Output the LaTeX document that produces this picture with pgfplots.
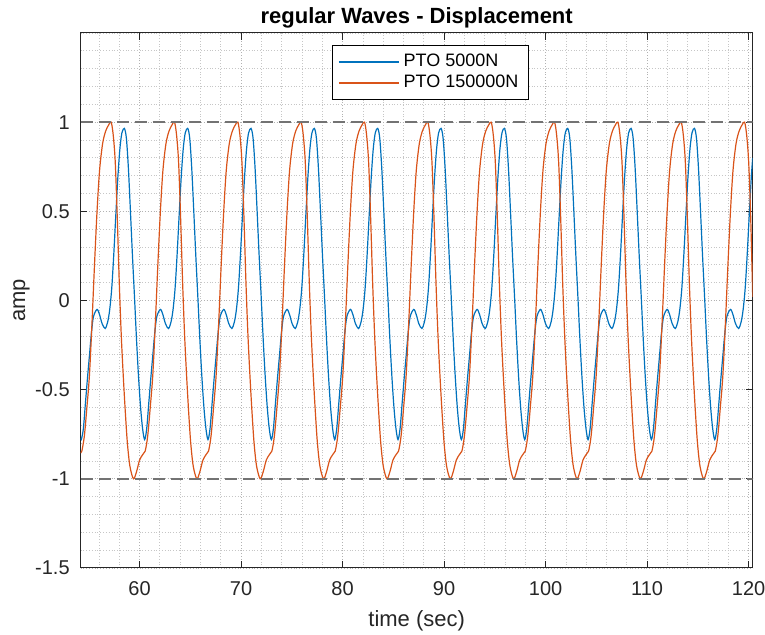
\documentclass[border=0pt]{standalone}
\usepackage{fontspec}
\setmainfont{Liberation Sans}
\usepackage{pgfplots}
\pgfplotsset{compat=1.18}
\definecolor{mblue}{rgb}{0,0.447,0.741}
\definecolor{morange}{rgb}{0.850,0.325,0.098}
\definecolor{axgray}{rgb}{0.15,0.15,0.15}
\definecolor{dashgray}{rgb}{0.45,0.45,0.45}
\begin{document}
\begin{tikzpicture}
\begin{axis}[
  scale only axis, width=336pt, height=267.5pt,
  xmin=54.2, xmax=120.4, ymin=-1.5, ymax=1.5,
  xtick={60,70,80,90,100,110,120}, xticklabels={60,70,80,90,100,110,120},
  ytick={-1.5,-1,-0.5,0,0.5,1}, yticklabels={-1.5,-1,-0.5,0,0.5,1},
  minor xtick={54,56,...,120},
  minor ytick={-1.4,-1.3,...,1.45},
  grid=both,
  major grid style={densely dotted, gray!60, line width=0.4pt},
  minor grid style={densely dotted, gray!45, line width=0.4pt},
  tick align=inside,
  major tick length=3.3pt, minor tick length=0pt,
  tick style={axgray, line width=0.5pt},
  axis line style={axgray, line width=0.5pt},
  ticklabel style={font=\fontsize{10}{12}\selectfont, text=axgray},
  xticklabel style={anchor=base, yshift=-14pt},
  yticklabel style={anchor=east, xshift=-2pt},
  every axis title shift=0pt,
  title={regular Waves - Displacement},
  title style={font=\bfseries\fontsize{11}{13}\selectfont, at={(axis description cs:0.5,1)}, anchor=base, yshift=4.5pt},
  xlabel={time (sec)},
  xlabel style={font=\fontsize{11}{13}\selectfont, text=axgray, at={(axis description cs:0.5,0)}, anchor=base, yshift=-29.5pt},
  ylabel={amp},
  ylabel style={font=\fontsize{11}{13}\selectfont, text=axgray, at={(axis description cs:-0.088,0.5)}, anchor=center},
  legend style={at={(axis description cs:0.374,0.978)}, anchor=north west, fill=white,
    font=\fontsize{9}{10.8}\selectfont, inner xsep=2.8pt, inner ysep=2.4pt, row sep=-1.05pt},
  legend cell align=left,
  legend image code/.code={\draw[line width=0.85pt] (0pt,0pt) -- (30pt,0pt);},
]
\addplot[color=mblue, line width=0.6pt, smooth] coordinates {
(54.20,-0.77) (54.26,-0.78) (54.46,-0.72) (54.66,-0.58) (54.86,-0.44) (55.06,-0.31) (55.26,-0.18) (55.46,-0.09) (55.81,-0.05) (56.06,-0.08) (56.31,-0.13) (56.61,-0.157) (56.86,-0.12) (57.06,-0.05) (57.26,0.07) (57.46,0.26) (57.66,0.48) (57.86,0.69) (58.06,0.85) (58.26,0.94)
(58.50,0.965) (58.70,0.91) (58.90,0.74) (59.10,0.50) (59.30,0.25) (59.50,0.02) (59.70,-0.22) (59.90,-0.43) (60.10,-0.60) (60.30,-0.72) (60.50,-0.78) (60.70,-0.72) (60.90,-0.58) (61.10,-0.44) (61.30,-0.31) (61.50,-0.18) (61.70,-0.09) (62.05,-0.05) (62.30,-0.08) (62.55,-0.13) (62.85,-0.157) (63.10,-0.12) (63.30,-0.05) (63.50,0.07) (63.70,0.26) (63.90,0.48) (64.10,0.69) (64.30,0.85) (64.50,0.94)
(64.74,0.965) (64.94,0.91) (65.14,0.74) (65.34,0.50) (65.54,0.25) (65.74,0.02) (65.94,-0.22) (66.14,-0.43) (66.34,-0.60) (66.54,-0.72) (66.74,-0.78) (66.94,-0.72) (67.14,-0.58) (67.34,-0.44) (67.54,-0.31) (67.74,-0.18) (67.94,-0.09) (68.29,-0.05) (68.54,-0.08) (68.79,-0.13) (69.09,-0.157) (69.34,-0.12) (69.54,-0.05) (69.74,0.07) (69.94,0.26) (70.14,0.48) (70.34,0.69) (70.54,0.85) (70.74,0.94)
(70.98,0.965) (71.18,0.91) (71.38,0.74) (71.58,0.50) (71.78,0.25) (71.98,0.02) (72.18,-0.22) (72.38,-0.43) (72.58,-0.60) (72.78,-0.72) (72.98,-0.78) (73.18,-0.72) (73.38,-0.58) (73.58,-0.44) (73.78,-0.31) (73.98,-0.18) (74.18,-0.09) (74.53,-0.05) (74.78,-0.08) (75.03,-0.13) (75.33,-0.157) (75.58,-0.12) (75.78,-0.05) (75.98,0.07) (76.18,0.26) (76.38,0.48) (76.58,0.69) (76.78,0.85) (76.98,0.94)
(77.22,0.965) (77.42,0.91) (77.62,0.74) (77.82,0.50) (78.02,0.25) (78.22,0.02) (78.42,-0.22) (78.62,-0.43) (78.82,-0.60) (79.02,-0.72) (79.22,-0.78) (79.42,-0.72) (79.62,-0.58) (79.82,-0.44) (80.02,-0.31) (80.22,-0.18) (80.42,-0.09) (80.77,-0.05) (81.02,-0.08) (81.27,-0.13) (81.57,-0.157) (81.82,-0.12) (82.02,-0.05) (82.22,0.07) (82.42,0.26) (82.62,0.48) (82.82,0.69) (83.02,0.85) (83.22,0.94)
(83.46,0.965) (83.66,0.91) (83.86,0.74) (84.06,0.50) (84.26,0.25) (84.46,0.02) (84.66,-0.22) (84.86,-0.43) (85.06,-0.60) (85.26,-0.72) (85.46,-0.78) (85.66,-0.72) (85.86,-0.58) (86.06,-0.44) (86.26,-0.31) (86.46,-0.18) (86.66,-0.09) (87.01,-0.05) (87.26,-0.08) (87.51,-0.13) (87.81,-0.157) (88.06,-0.12) (88.26,-0.05) (88.46,0.07) (88.66,0.26) (88.86,0.48) (89.06,0.69) (89.26,0.85) (89.46,0.94)
(89.70,0.965) (89.90,0.91) (90.10,0.74) (90.30,0.50) (90.50,0.25) (90.70,0.02) (90.90,-0.22) (91.10,-0.43) (91.30,-0.60) (91.50,-0.72) (91.70,-0.78) (91.90,-0.72) (92.10,-0.58) (92.30,-0.44) (92.50,-0.31) (92.70,-0.18) (92.90,-0.09) (93.25,-0.05) (93.50,-0.08) (93.75,-0.13) (94.05,-0.157) (94.30,-0.12) (94.50,-0.05) (94.70,0.07) (94.90,0.26) (95.10,0.48) (95.30,0.69) (95.50,0.85) (95.70,0.94)
(95.94,0.965) (96.14,0.91) (96.34,0.74) (96.54,0.50) (96.74,0.25) (96.94,0.02) (97.14,-0.22) (97.34,-0.43) (97.54,-0.60) (97.74,-0.72) (97.94,-0.78) (98.14,-0.72) (98.34,-0.58) (98.54,-0.44) (98.74,-0.31) (98.94,-0.18) (99.14,-0.09) (99.49,-0.05) (99.74,-0.08) (99.99,-0.13) (100.29,-0.157) (100.54,-0.12) (100.74,-0.05) (100.94,0.07) (101.14,0.26) (101.34,0.48) (101.54,0.69) (101.74,0.85) (101.94,0.94)
(102.18,0.965) (102.38,0.91) (102.58,0.74) (102.78,0.50) (102.98,0.25) (103.18,0.02) (103.38,-0.22) (103.58,-0.43) (103.78,-0.60) (103.98,-0.72) (104.18,-0.78) (104.38,-0.72) (104.58,-0.58) (104.78,-0.44) (104.98,-0.31) (105.18,-0.18) (105.38,-0.09) (105.73,-0.05) (105.98,-0.08) (106.23,-0.13) (106.53,-0.157) (106.78,-0.12) (106.98,-0.05) (107.18,0.07) (107.38,0.26) (107.58,0.48) (107.78,0.69) (107.98,0.85) (108.18,0.94)
(108.42,0.965) (108.62,0.91) (108.82,0.74) (109.02,0.50) (109.22,0.25) (109.42,0.02) (109.62,-0.22) (109.82,-0.43) (110.02,-0.60) (110.22,-0.72) (110.42,-0.78) (110.62,-0.72) (110.82,-0.58) (111.02,-0.44) (111.22,-0.31) (111.42,-0.18) (111.62,-0.09) (111.97,-0.05) (112.22,-0.08) (112.47,-0.13) (112.77,-0.157) (113.02,-0.12) (113.22,-0.05) (113.42,0.07) (113.62,0.26) (113.82,0.48) (114.02,0.69) (114.22,0.85) (114.42,0.94)
(114.66,0.965) (114.86,0.91) (115.06,0.74) (115.26,0.50) (115.46,0.25) (115.66,0.02) (115.86,-0.22) (116.06,-0.43) (116.26,-0.60) (116.46,-0.72) (116.66,-0.78) (116.86,-0.72) (117.06,-0.58) (117.26,-0.44) (117.46,-0.31) (117.66,-0.18) (117.86,-0.09) (118.21,-0.05) (118.46,-0.08) (118.71,-0.13) (119.01,-0.157) (119.26,-0.12) (119.46,-0.05) (119.66,0.07) (119.86,0.26) (120.06,0.48) (120.26,0.69) (120.40,0.80)
};
\addlegendentry{PTO 5000N}
\addplot[color=morange, line width=0.6pt, smooth] coordinates {
(54.20,-0.85) (54.31,-0.845) (54.56,-0.76) (54.81,-0.60) (55.06,-0.42) (55.31,-0.13) (55.56,0.20) (55.81,0.50) (56.06,0.73) (56.36,0.88) (56.66,0.95) (56.96,0.985)
(57.20,1.00) (57.40,0.93) (57.60,0.78) (57.80,0.47) (58.00,0.10) (58.20,-0.20) (58.40,-0.43) (58.60,-0.63) (58.80,-0.80) (59.05,-0.93) (59.40,-1.00) (59.70,-0.96) (60.00,-0.895) (60.30,-0.865) (60.55,-0.845) (60.80,-0.76) (61.05,-0.60) (61.30,-0.42) (61.55,-0.13) (61.80,0.20) (62.05,0.50) (62.30,0.73) (62.60,0.88) (62.90,0.95) (63.20,0.985)
(63.44,1.00) (63.64,0.93) (63.84,0.78) (64.04,0.47) (64.24,0.10) (64.44,-0.20) (64.64,-0.43) (64.84,-0.63) (65.04,-0.80) (65.29,-0.93) (65.64,-1.00) (65.94,-0.96) (66.24,-0.895) (66.54,-0.865) (66.79,-0.845) (67.04,-0.76) (67.29,-0.60) (67.54,-0.42) (67.79,-0.13) (68.04,0.20) (68.29,0.50) (68.54,0.73) (68.84,0.88) (69.14,0.95) (69.44,0.985)
(69.68,1.00) (69.88,0.93) (70.08,0.78) (70.28,0.47) (70.48,0.10) (70.68,-0.20) (70.88,-0.43) (71.08,-0.63) (71.28,-0.80) (71.53,-0.93) (71.88,-1.00) (72.18,-0.96) (72.48,-0.895) (72.78,-0.865) (73.03,-0.845) (73.28,-0.76) (73.53,-0.60) (73.78,-0.42) (74.03,-0.13) (74.28,0.20) (74.53,0.50) (74.78,0.73) (75.08,0.88) (75.38,0.95) (75.68,0.985)
(75.92,1.00) (76.12,0.93) (76.32,0.78) (76.52,0.47) (76.72,0.10) (76.92,-0.20) (77.12,-0.43) (77.32,-0.63) (77.52,-0.80) (77.77,-0.93) (78.12,-1.00) (78.42,-0.96) (78.72,-0.895) (79.02,-0.865) (79.27,-0.845) (79.52,-0.76) (79.77,-0.60) (80.02,-0.42) (80.27,-0.13) (80.52,0.20) (80.77,0.50) (81.02,0.73) (81.32,0.88) (81.62,0.95) (81.92,0.985)
(82.16,1.00) (82.36,0.93) (82.56,0.78) (82.76,0.47) (82.96,0.10) (83.16,-0.20) (83.36,-0.43) (83.56,-0.63) (83.76,-0.80) (84.01,-0.93) (84.36,-1.00) (84.66,-0.96) (84.96,-0.895) (85.26,-0.865) (85.51,-0.845) (85.76,-0.76) (86.01,-0.60) (86.26,-0.42) (86.51,-0.13) (86.76,0.20) (87.01,0.50) (87.26,0.73) (87.56,0.88) (87.86,0.95) (88.16,0.985)
(88.40,1.00) (88.60,0.93) (88.80,0.78) (89.00,0.47) (89.20,0.10) (89.40,-0.20) (89.60,-0.43) (89.80,-0.63) (90.00,-0.80) (90.25,-0.93) (90.60,-1.00) (90.90,-0.96) (91.20,-0.895) (91.50,-0.865) (91.75,-0.845) (92.00,-0.76) (92.25,-0.60) (92.50,-0.42) (92.75,-0.13) (93.00,0.20) (93.25,0.50) (93.50,0.73) (93.80,0.88) (94.10,0.95) (94.40,0.985)
(94.64,1.00) (94.84,0.93) (95.04,0.78) (95.24,0.47) (95.44,0.10) (95.64,-0.20) (95.84,-0.43) (96.04,-0.63) (96.24,-0.80) (96.49,-0.93) (96.84,-1.00) (97.14,-0.96) (97.44,-0.895) (97.74,-0.865) (97.99,-0.845) (98.24,-0.76) (98.49,-0.60) (98.74,-0.42) (98.99,-0.13) (99.24,0.20) (99.49,0.50) (99.74,0.73) (100.04,0.88) (100.34,0.95) (100.64,0.985)
(100.88,1.00) (101.08,0.93) (101.28,0.78) (101.48,0.47) (101.68,0.10) (101.88,-0.20) (102.08,-0.43) (102.28,-0.63) (102.48,-0.80) (102.73,-0.93) (103.08,-1.00) (103.38,-0.96) (103.68,-0.895) (103.98,-0.865) (104.23,-0.845) (104.48,-0.76) (104.73,-0.60) (104.98,-0.42) (105.23,-0.13) (105.48,0.20) (105.73,0.50) (105.98,0.73) (106.28,0.88) (106.58,0.95) (106.88,0.985)
(107.12,1.00) (107.32,0.93) (107.52,0.78) (107.72,0.47) (107.92,0.10) (108.12,-0.20) (108.32,-0.43) (108.52,-0.63) (108.72,-0.80) (108.97,-0.93) (109.32,-1.00) (109.62,-0.96) (109.92,-0.895) (110.22,-0.865) (110.47,-0.845) (110.72,-0.76) (110.97,-0.60) (111.22,-0.42) (111.47,-0.13) (111.72,0.20) (111.97,0.50) (112.22,0.73) (112.52,0.88) (112.82,0.95) (113.12,0.985)
(113.36,1.00) (113.56,0.93) (113.76,0.78) (113.96,0.47) (114.16,0.10) (114.36,-0.20) (114.56,-0.43) (114.76,-0.63) (114.96,-0.80) (115.21,-0.93) (115.56,-1.00) (115.86,-0.96) (116.16,-0.895) (116.46,-0.865) (116.71,-0.845) (116.96,-0.76) (117.21,-0.60) (117.46,-0.42) (117.71,-0.13) (117.96,0.20) (118.21,0.50) (118.46,0.73) (118.76,0.88) (119.06,0.95) (119.36,0.985)
(119.60,1.00) (119.80,0.93) (120.00,0.78) (120.20,0.47) (120.40,0.02)
};
\addlegendentry{PTO 150000N}
\addplot[forget plot, dashgray, line width=0.75pt, dash pattern=on 6pt off 3pt] coordinates {(54.2,1) (120.4,1)};
\addplot[forget plot, dashgray, line width=0.75pt, dash pattern=on 6pt off 3pt] coordinates {(54.2,-1) (120.4,-1)};
\end{axis}
\pgfresetboundingbox
\path[use as bounding box] (-40.35pt,-33.5pt) rectangle (342.15pt,284pt);
\end{tikzpicture}
\end{document}
